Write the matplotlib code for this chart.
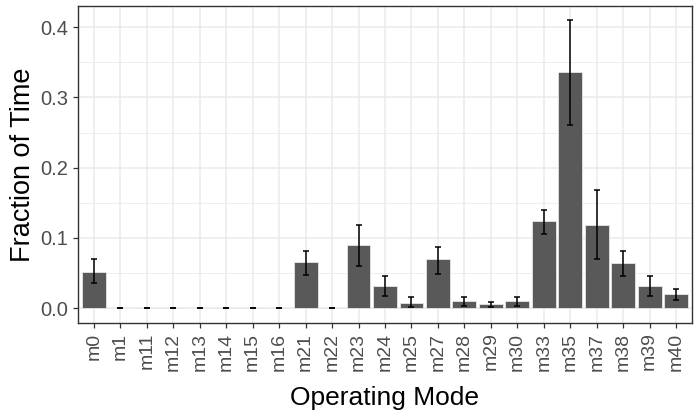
import matplotlib
matplotlib.use('Agg')
import matplotlib.pyplot as plt
import numpy as np

# Operating modes and fraction-of-time estimates with error bounds
modes = ['m0', 'm1', 'm11', 'm12', 'm13', 'm14', 'm15', 'm16', 'm21', 'm22',
         'm23', 'm24', 'm25', 'm27', 'm28', 'm29', 'm30', 'm33', 'm35', 'm37',
         'm38', 'm39', 'm40']
fraction = [0.052, 0.0, 0.0, 0.0, 0.0, 0.0, 0.0, 0.0, 0.066, 0.0,
            0.0905, 0.032, 0.008, 0.0706, 0.010, 0.006, 0.010, 0.1247, 0.336, 0.118,
            0.064, 0.032, 0.020]
err_low = [0.036, 0.0, 0.0, 0.0, 0.0, 0.0, 0.0, 0.0, 0.047, 0.0,
           0.060, 0.0175, 0.0014, 0.049, 0.0033, 0.0019, 0.0033, 0.1058, 0.2605, 0.0697,
           0.0455, 0.0175, 0.0118]
err_high = [0.070, 0.0, 0.0, 0.0, 0.0, 0.0, 0.0, 0.0, 0.082, 0.0,
            0.118, 0.046, 0.0157, 0.0877, 0.0157, 0.0095, 0.0157, 0.1404, 0.4094, 0.1684,
            0.082, 0.046, 0.028]

plt.rcParams['font.family'] = ['Liberation Sans', 'DejaVu Sans']

fig = plt.figure(figsize=(6.97, 4.15), dpi=100)
ax = fig.add_axes([0.1119, 0.2224, 0.8809, 0.7631])

x = np.arange(len(modes))
y = np.array(fraction)
lo = y - np.array(err_low)
hi = np.array(err_high) - y

ax.bar(x, y, width=0.9, color='#595959', edgecolor='#e6e6e6', linewidth=0.6, zorder=2)
ax.errorbar(x, y, yerr=[lo, hi], fmt='none', ecolor='black', elinewidth=1.1,
            capsize=2.2, capthick=1.1, zorder=3)

ax.set_xlim(-0.6, len(modes) - 0.4)
ax.set_ylim(-0.0205, 0.430)
ax.set_xticks(x)
ax.set_xticklabels(modes, rotation=90, ha='center', va='top')
ax.set_yticks([0.0, 0.1, 0.2, 0.3, 0.4])
ax.set_yticklabels(['0.0', '0.1', '0.2', '0.3', '0.4'])
ax.set_yticks([0.05, 0.15, 0.25, 0.35], minor=True)

ax.grid(True, which='major', color='#ebebeb', linewidth=1.1, zorder=0)
ax.grid(True, which='minor', axis='y', color='#ebebeb', linewidth=0.6, zorder=0)
ax.set_axisbelow(True)

ax.tick_params(axis='both', which='major', length=3.6, width=0.9, color='#333333',
               labelcolor='#4d4d4d')
ax.tick_params(axis='x', labelsize=14, pad=3.5)
ax.tick_params(axis='y', labelsize=14.5, pad=3.5)
ax.tick_params(axis='y', which='minor', length=0)
for s in ax.spines.values():
    s.set_color('#333333')
    s.set_linewidth(1.0)

ax.set_xlabel('Operating Mode', fontsize=19, color='black', labelpad=11)
ax.set_ylabel('Fraction of Time', fontsize=19.5, color='black', labelpad=3)

fig.savefig('out.png', dpi=100)
